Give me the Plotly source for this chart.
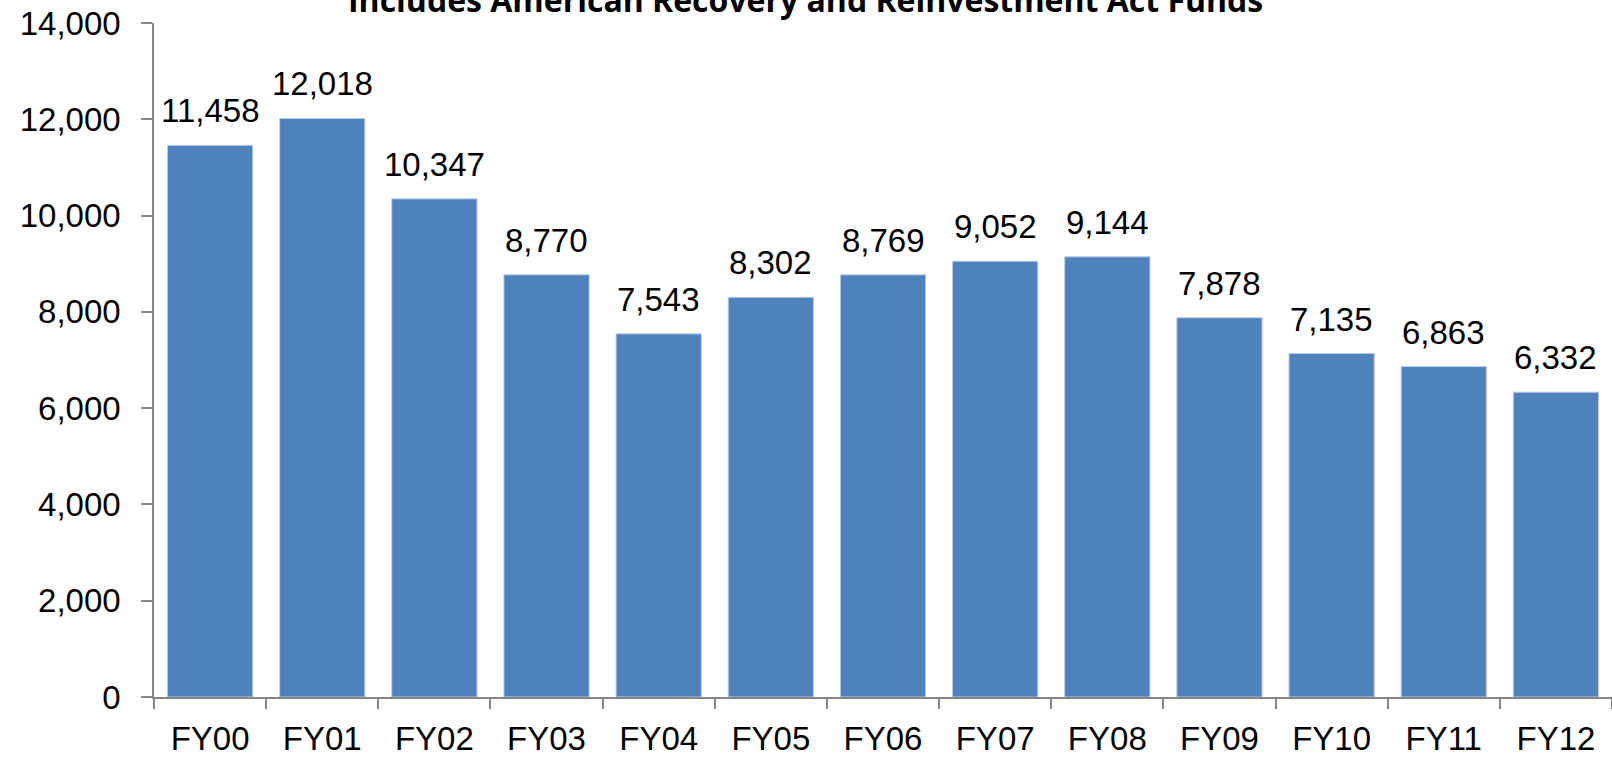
import plotly.graph_objects as go

categories = ["FY00", "FY01", "FY02", "FY03", "FY04", "FY05", "FY06",
              "FY07", "FY08", "FY09", "FY10", "FY11", "FY12"]
values = [11458, 12018, 10347, 8770, 7543, 8302, 8769,
          9052, 9144, 7878, 7135, 6863, 6332]
y_ticks = [0, 2000, 4000, 6000, 8000, 10000, 12000, 14000]
title_text = "Includes American Recovery and Reinvestment Act Funds"

FONT = "Liberation Sans, Arial, sans-serif"
BAR = "#4F81BD"
AXIS = "#868686"

fig = go.Figure()
fig.add_trace(go.Bar(
    x=categories, y=values,
    marker=dict(color=BAR, line=dict(color="#B9CDE5", width=1)),
    hoverinfo="x+y",
))

for c, v in zip(categories, values):
    fig.add_annotation(
        x=c, y=v, xref="x", yref="y",
        text=f"{v:,}", showarrow=False,
        yanchor="bottom", yshift=14,
        font=dict(family=FONT, size=33, color="black"),
    )

fig.add_annotation(
    x=0.447, y=1.0, xref="paper", yref="paper",
    text=f"<b>{title_text}</b>", showarrow=False,
    xanchor="center", yanchor="bottom",
    font=dict(family="Open Sans, sans-serif", size=32, color="black"),
)

fig.update_layout(
    width=1612, height=757,
    margin=dict(l=154, r=0, t=23, b=56),
    paper_bgcolor="white", plot_bgcolor="white",
    bargap=0.24,
    showlegend=False,
    font=dict(family=FONT, color="black"),
)
fig.update_xaxes(
    type="category",
    showline=True, linecolor=AXIS, linewidth=1.5,
    ticks="outside", tickson="boundaries", ticklen=10, tickcolor=AXIS, tickwidth=1.5,
    tickfont=dict(family=FONT, size=33, color="black"),
    showgrid=False, zeroline=False,
    ticklabelstandoff=12,
)
fig.update_yaxes(
    range=[0, 14000], tickvals=y_ticks,
    ticktext=[f"{t:,}" for t in y_ticks],
    showline=True, linecolor=AXIS, linewidth=1.5,
    ticks="outside", ticklen=11, tickcolor=AXIS, tickwidth=1.5,
    tickfont=dict(family=FONT, size=33, color="black"),
    showgrid=False, zeroline=False,
    ticklabelstandoff=14,
)

fig.write_html(
    "out.html",
    config={"displayModeBar": False},
    post_script="document.body.style.margin='0';document.body.style.overflow='hidden';",
)
